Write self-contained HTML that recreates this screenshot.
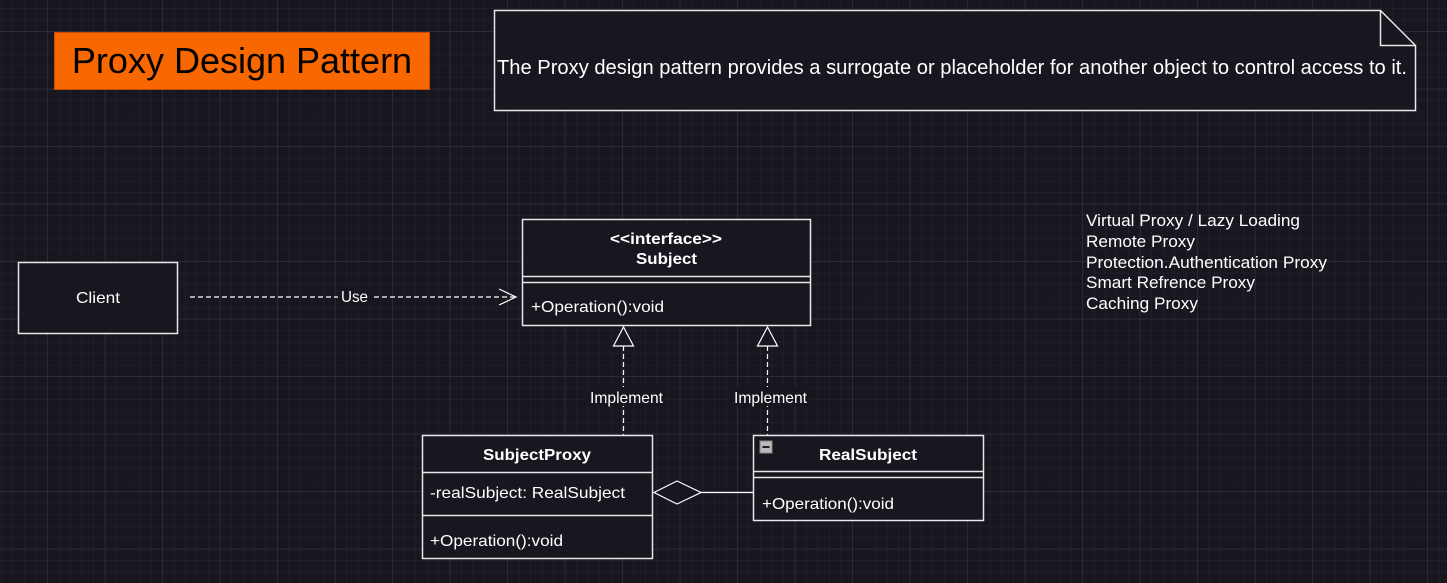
<!DOCTYPE html>
<html><head><meta charset="utf-8"><style>
html,body{margin:0;padding:0;background:#18161f;}
svg{display:block;font-family:"Liberation Sans",Arial,sans-serif;}
</style></head><body>
<svg width="1447" height="583" viewBox="0 0 1447 583" xmlns="http://www.w3.org/2000/svg">
<defs>
<pattern id="minor" x="47.3" y="31.3" width="11.5" height="11.5" patternUnits="userSpaceOnUse">
<path d="M0 0H11.5M0 0V11.5" stroke="#26242e" stroke-width="1" fill="none"/>
</pattern>
<pattern id="major" x="47.3" y="31.3" width="57.5" height="57.5" patternUnits="userSpaceOnUse">
<path d="M0 0H57.5M0 0V57.5" stroke="#3a3842" stroke-width="1" fill="none"/>
</pattern>
</defs>
<rect width="1447" height="583" fill="#18161f"/>
<rect width="1447" height="583" fill="url(#minor)"/>
<rect width="1447" height="583" fill="url(#major)"/>

<!-- Title -->
<rect x="54.5" y="32.5" width="375" height="57" fill="#f96800" stroke="#c94a00"/>
<text x="242" y="73" font-size="36" text-anchor="middle" fill="#000">Proxy Design Pattern</text>

<!-- Note -->
<path d="M494.5 10.5H1380.5L1415.5 45.5V110.5H494.5Z" fill="#18161f" stroke="#e8e8e8" stroke-width="1.5"/>
<path d="M1380.5 10.5V45.5H1415.5" fill="none" stroke="#e8e8e8" stroke-width="1.5"/>
<text x="497" y="74" font-size="20" fill="#fff" textLength="910" lengthAdjust="spacingAndGlyphs">The Proxy design pattern provides a surrogate or placeholder for another object to control access to it.</text>

<!-- Client -->
<rect x="18.5" y="262.5" width="159" height="71" fill="#18161f" stroke="#e8e8e8" stroke-width="1.5"/>
<text x="76" y="303" font-size="16" fill="#fff" textLength="44" lengthAdjust="spacingAndGlyphs">Client</text>

<!-- Use arrow -->
<line x1="190" y1="297" x2="514" y2="297" stroke="#fff" stroke-width="1.2" stroke-dasharray="5,3"/>
<path d="M499 289L516 297L499 305" fill="none" stroke="#fff" stroke-width="1.2"/>
<rect x="338" y="287" width="33" height="18" fill="#18161f"/>
<text x="341" y="302" font-size="16" fill="#fff" textLength="27" lengthAdjust="spacingAndGlyphs">Use</text>

<!-- Subject -->
<rect x="522.5" y="219.5" width="288" height="106" fill="#18161f" stroke="#e8e8e8" stroke-width="1.5"/>
<line x1="522" y1="276.5" x2="811" y2="276.5" stroke="#e8e8e8" stroke-width="1.5"/>
<line x1="522" y1="282.5" x2="811" y2="282.5" stroke="#e8e8e8" stroke-width="1.5"/>
<text x="610" y="244" font-size="16" font-weight="bold" fill="#fff" textLength="112" lengthAdjust="spacingAndGlyphs">&lt;&lt;interface&gt;&gt;</text>
<text x="636" y="264" font-size="16" font-weight="bold" fill="#fff" textLength="61" lengthAdjust="spacingAndGlyphs">Subject</text>
<text x="531" y="312" font-size="16" fill="#fff" textLength="133" lengthAdjust="spacingAndGlyphs">+Operation():void</text>

<!-- Implement arrows -->
<line x1="623.5" y1="346" x2="623.5" y2="435" stroke="#fff" stroke-width="1.2" stroke-dasharray="5,3"/>
<path d="M623.5 327L613.5 346H633.5Z" fill="#18161f" stroke="#fff" stroke-width="1.2"/>
<rect x="588" y="387" width="77" height="19" fill="#18161f"/>
<text x="590" y="403" font-size="16" fill="#fff" textLength="73" lengthAdjust="spacingAndGlyphs">Implement</text>

<line x1="767.5" y1="346" x2="767.5" y2="435" stroke="#fff" stroke-width="1.2" stroke-dasharray="5,3"/>
<path d="M767.5 327L757.5 346H777.5Z" fill="#18161f" stroke="#fff" stroke-width="1.2"/>
<rect x="732" y="387" width="77" height="19" fill="#18161f"/>
<text x="734" y="403" font-size="16" fill="#fff" textLength="73" lengthAdjust="spacingAndGlyphs">Implement</text>

<!-- SubjectProxy -->
<rect x="422.5" y="435.5" width="230" height="123" fill="#18161f" stroke="#e8e8e8" stroke-width="1.5"/>
<line x1="422" y1="472.5" x2="653" y2="472.5" stroke="#e8e8e8" stroke-width="1.5"/>
<line x1="422" y1="515.5" x2="653" y2="515.5" stroke="#e8e8e8" stroke-width="1.5"/>
<text x="483" y="460" font-size="16" font-weight="bold" fill="#fff" textLength="108" lengthAdjust="spacingAndGlyphs">SubjectProxy</text>
<text x="430" y="498" font-size="16" fill="#fff" textLength="195" lengthAdjust="spacingAndGlyphs">-realSubject: RealSubject</text>
<text x="430" y="546" font-size="16" fill="#fff" textLength="133" lengthAdjust="spacingAndGlyphs">+Operation():void</text>

<!-- RealSubject -->
<rect x="753.5" y="435.5" width="230" height="85" fill="#18161f" stroke="#e8e8e8" stroke-width="1.5"/>
<line x1="753" y1="471.5" x2="984" y2="471.5" stroke="#e8e8e8" stroke-width="1.5"/>
<line x1="753" y1="477.5" x2="984" y2="477.5" stroke="#e8e8e8" stroke-width="1.5"/>
<rect x="760" y="441" width="12" height="12" fill="#bbb" stroke="#888"/>
<line x1="762.5" y1="447" x2="769.5" y2="447" stroke="#222" stroke-width="2"/>
<text x="819" y="460" font-size="16" font-weight="bold" fill="#fff" textLength="98" lengthAdjust="spacingAndGlyphs">RealSubject</text>
<text x="762" y="509" font-size="16" fill="#fff" textLength="132" lengthAdjust="spacingAndGlyphs">+Operation():void</text>

<!-- Aggregation -->
<line x1="701" y1="492.5" x2="753" y2="492.5" stroke="#fff" stroke-width="1.2"/>
<path d="M654 492.5L677 481L701 492.5L677 504Z" fill="#18161f" stroke="#fff" stroke-width="1.2"/>

<!-- List -->
<g font-size="16.5" fill="#fff">
<text x="1086" y="226" textLength="214" lengthAdjust="spacingAndGlyphs">Virtual Proxy / Lazy Loading</text>
<text x="1086" y="247" textLength="109" lengthAdjust="spacingAndGlyphs">Remote Proxy</text>
<text x="1086" y="268" textLength="241" lengthAdjust="spacingAndGlyphs">Protection.Authentication Proxy</text>
<text x="1086" y="288" textLength="169" lengthAdjust="spacingAndGlyphs">Smart Refrence Proxy</text>
<text x="1086" y="309" textLength="112" lengthAdjust="spacingAndGlyphs">Caching Proxy</text>
</g>
</svg>
</body></html>
